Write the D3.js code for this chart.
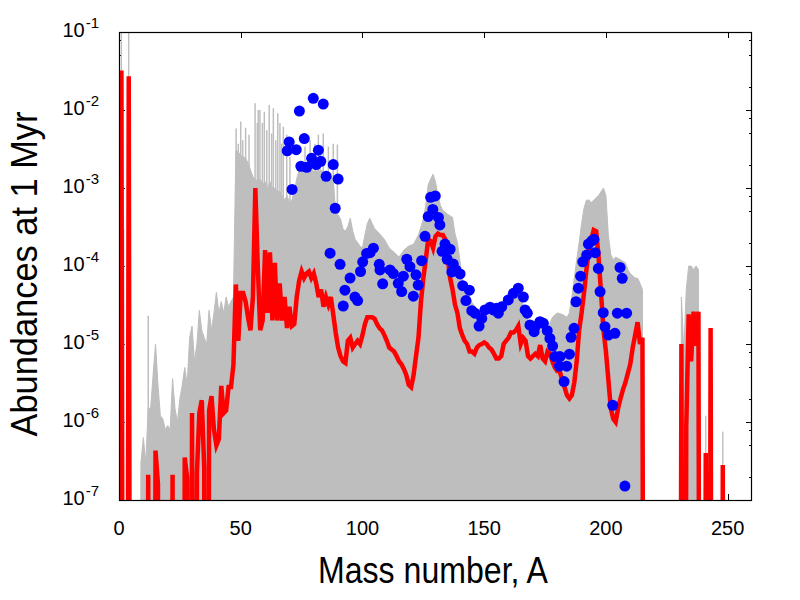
<!DOCTYPE html>
<html>
<head>
<meta charset="utf-8">
<script src="https://cdn.jsdelivr.net/npm/d3@7"></script>
<style>
  body { margin: 0; background: #ffffff; }
  svg { display: block; }
  text { font-family: "Liberation Sans", Arial, Helvetica, sans-serif; fill: #000; }
</style>
</head>
<body>
<svg id="chart" width="800" height="600"></svg>
<script>
// ---------------- data ----------------
const FLOOR = 1e-20; // abundances far below the plotted range

// red curve: abundances at 1 Myr
const redMass = [1,2,3,4,5,11,12,13,14,15,16,17,21,22,23,26,27,28,29,30,31,32,33,34,35,36,37,38,39,40,
  41,42,43,44,45,46,47,48,49,50,51,52,53,54,55,56,57,58,59,60,61,62,63,64,65,66,67,68,69,70,
  71,72,73,74,75,76,77,78,79,80,81,82,83,84,85,86,87,88,89,90,91,92,93,94,95,96,97,98,99,100,
  101,102,103,104,105,106,107,108,109,110,111,112,113,114,115,116,117,118,119,120,
  121,122,123,124,125,126,127,128,129,130,131,132,133,134,135,136,137,138,139,140,
  141,142,143,144,145,146,147,148,149,150,151,152,153,154,155,156,157,158,159,160,
  161,162,163,164,165,166,167,168,169,170,171,172,173,174,175,176,177,178,179,180,
  181,182,183,184,185,186,187,188,189,190,191,192,193,194,195,196,197,198,199,200,
  201,202,203,204,205,206,207,208,209,210,211,212,213,214,215,216,
  230,231,232,233,234,235,236,237,238,239,240,241,242,243,244,247,248,249];
const redAbund = [3.2e-2,FLOOR,FLOOR,2.7e-2,FLOOR,FLOOR,2.1e-7,FLOOR,FLOOR,4.3e-7,1.6e-7,FLOOR,FLOOR,2.1e-7,FLOOR,FLOOR,3.5e-7,1.9e-7,FLOOR,1.3e-6,FLOOR,2.2e-7,1.3e-6,1.9e-6,2.6e-7,FLOOR,1.4e-6,2.15e-6,8e-7,5e-7,
  6e-7,2.9e-6,1.3e-6,1.4e-6,2.8e-6,2.8e-6,5.4e-6,5.8e-5,1.1e-5,4.5e-5,4.5e-5,3.5e-5,2.2e-5,1.5e-5,4e-5,1e-3,1e-4,1.5e-5,2e-5,1.6e-4,2.5e-5,1.5e-4,2e-5,1.1e-4,2e-5,6e-5,2e-5,4e-5,1.6e-5,3e-5,
  1.7e-5,1.8e-5,4e-5,6.5e-5,8.5e-5,7e-5,8e-5,8.5e-5,7e-5,8e-5,6e-5,4e-5,5e-5,3e-5,4e-5,3.2e-5,4e-5,2.4e-5,1.4e-5,9e-6,7e-6,6e-6,5.7e-6,1.1e-5,1.2e-5,9e-6,1e-5,1.1e-5,1e-5,1.3e-5,
  1.8e-5,2.2e-5,2.2e-5,2.2e-5,2.1e-5,1.8e-5,1.6e-5,1.5e-5,1.3e-5,1.1e-5,9e-6,8.5e-6,8e-6,7e-6,6e-6,5.5e-6,4.8e-6,4e-6,3e-6,2.8e-6,
  4e-6,7e-6,1.2e-5,3.4e-5,7e-5,1.2e-4,2.2e-4,2.1e-4,1.7e-4,2.4e-4,2.6e-4,2.5e-4,2.5e-4,2.2e-4,1.3e-4,7e-5,5e-5,3.2e-5,2.5e-5,1.6e-5,
  1.3e-5,1.1e-5,1e-5,8e-6,8e-6,7.5e-6,9e-6,9.7e-6,1e-5,1.05e-5,1e-5,9e-6,8.5e-6,7.5e-6,6.5e-6,6.5e-6,7e-6,1e-5,1.1e-5,1.2e-5,
  1.4e-5,1.4e-5,1.5e-5,1.7e-5,1e-5,1.2e-5,1.1e-5,7e-6,6.5e-6,7e-6,7.5e-6,7e-6,9.7e-6,6.5e-6,6e-6,8e-6,7.5e-6,6e-6,5e-6,4.5e-6,
  4.5e-6,3.5e-6,2.8e-6,2.2e-6,2e-6,2.2e-6,3.2e-6,6e-6,1.5e-5,2.5e-5,4.5e-5,9e-5,1.6e-4,2.2e-4,2.9e-4,2.8e-4,1.3e-4,4.5e-5,1.5e-5,8e-6,
  3.5e-6,1.5e-6,1.1e-6,1e-6,1.5e-6,2e-6,2.6e-6,3.2e-6,4.2e-6,5.5e-6,9e-6,1.3e-5,1.9e-5,1e-5,1.2e-5,FLOOR,
  FLOOR,1e-5,FLOOR,9e-7,2.4e-5,6e-6,2.6e-5,9.5e-6,2.6e-5,FLOOR,FLOOR,4e-7,FLOOR,1.6e-5,FLOOR,FLOOR,2.8e-7,FLOOR];

// grey band: upper envelope of the ensemble of runs
const grayMass = [0,1,2,3,4,5,8,9,10,11,12,13,14,15,16,17,18,19,20,21,22,23,24,25,26,27,28,29,30,31,32,33,34,35,36,37,38,39,40,
  41,42,43,44,45,46,47,48,49,50,51,52,53,54,55,56,57,58,59,60,61,62,63,64,65,66,67,68,69,70,
  71,72,73,74,75,76,77,78,79,80,81,82,83,84,85,86,87,88,89,90,91,92,93,94,95,96,97,98,99,100,
  101,102,103,104,105,107,109,111,113,115,117,119,121,123,125,126,127,128,129,130,131,132,133,135,137,138,139,140,
  141,142,144,145,147,149,151,153,155,157,159,161,163,164,165,166,167,168,170,172,174,176,178,180,182,184,185,186,187,188,189,190,
  191,192,193,194,195,196,197,198,199,200,201,202,203,204,206,208,209,210,212,213,214,215,216,
  230,231,232,233,234,235,236,237,238,239,240,241,242,247,248,249];
const grayTop = [FLOOR,0.2,FLOOR,FLOOR,0.2,FLOOR,FLOOR,3e-7,6.3e-7,3e-7,1.5e-6,1.5e-6,4e-6,1e-5,3e-6,1.2e-6,1.1e-6,8e-7,9e-7,8e-7,3.6e-6,1.5e-6,1e-6,2e-6,3e-6,5e-6,3e-6,1.2e-5,1.7e-5,6e-6,1e-5,2.7e-5,1.5e-5,1.2e-5,1e-5,2.7e-5,1.5e-5,2.5e-5,4.6e-5,
  2.5e-5,3.5e-5,2.5e-5,4e-5,3e-5,3.5e-5,4e-5,3e-3,2.9e-3,2.6e-3,2.5e-3,2.4e-3,2.1e-3,1.7e-3,1.4e-3,1.3e-3,1.2e-3,1.3e-3,1.1e-3,1.2e-3,1e-3,1.2e-3,1e-3,1e-3,9e-4,9e-4,8e-4,7e-4,8e-4,6.5e-4,
  7e-4,9e-4,1.3e-3,1.7e-3,1.8e-3,1.7e-3,1.8e-3,1.7e-3,1.8e-3,1.6e-3,1.7e-3,1.6e-3,1.7e-3,1.6e-3,1.5e-3,1.6e-3,1.4e-3,1.3e-3,4.8e-4,4.5e-4,4e-4,3e-4,2.8e-4,3.2e-4,4.1e-4,2.8e-4,2.2e-4,2e-4,1.8e-4,1.7e-4,
  2.5e-4,3.5e-4,4.1e-4,3.5e-4,3e-4,2.6e-4,2.2e-4,1.7e-4,1.5e-4,1.3e-4,1.6e-4,1.8e-4,1.9e-4,2.5e-4,4e-4,6e-4,1.1e-3,1.3e-3,1.5e-3,1.2e-3,8e-4,6e-4,5.2e-4,4.6e-4,4.2e-4,2.6e-4,2e-4,1.2e-4,
  7e-5,5.5e-5,4e-5,3.4e-5,2.8e-5,2.4e-5,2.5e-5,3.2e-5,3.2e-5,3.4e-5,4e-5,5e-5,5.5e-5,5.5e-5,4e-5,3.2e-5,2.5e-5,2e-5,2e-5,1.8e-5,1.6e-5,1.5e-5,2.2e-5,2.5e-5,2.4e-5,2.2e-5,2.5e-5,4e-5,7e-5,1.2e-4,2e-4,3.5e-4,
  5.5e-4,7e-4,7e-4,6.5e-4,7e-4,7.5e-4,8e-4,9e-4,1e-3,8e-4,2.5e-4,1.4e-4,1.2e-4,1.3e-4,1.2e-4,1.1e-4,9e-5,8e-5,7e-5,7e-5,6e-5,5e-5,FLOOR,
  FLOOR,4e-5,8e-6,5e-5,1e-4,1e-4,9e-5,1e-4,9e-5,FLOOR,FLOOR,1.2e-6,FLOOR,FLOOR,7.5e-7,FLOOR];

// isolated tall grey runs (thin spikes above the band)
const spikeMass = [1.9,12.0,48.1,49.0,50.0,50.8,52.0,53.4,55.9,56.8,57.2,57.9,58.9,59.7,60.7,61.7,62.7,63.4,64.4,65.2,66.1,66.8,67.5,68.9,70.2,76.4,78.5,80.5,81.9,82.6,83.9,86.0,88.0,89.7];
const spikeTop  = [3e-4,2.3e-5,5.8e-3,3.7e-3,7.1e-3,4.1e-3,5.9e-3,4.8e-3,1.22e-2,6.8e-3,1.0e-2,1.0e-2,6.8e-3,9.5e-3,5.5e-3,1.16e-2,5.0e-3,1.05e-2,4.1e-3,9.1e-3,6.8e-3,3.7e-3,6.1e-3,4.8e-3,2.5e-3,3.4e-3,4.1e-3,3.7e-3,4.8e-3,2.6e-3,5.0e-3,3.4e-3,3.7e-3,3.6e-3];

// blue points: observed abundances
const obsMass = [69.1,69.9,71.1,72.8,74.1,74.7,76.1,77.1,79.1,79.8,81.0,81.9,82.9,83.9,85.1,88.0,88.8,90.0,86.7,90.8,
  92.1,92.8,94.9,96.9,98.0,99.2,100.1,101.7,103.1,104.5,106.9,107.2,108.3,111.3,112.7,114.7,116.1,116.8,118.2,119.5,
  120.9,122.0,122.9,124.3,125.7,127.0,128.0,128.9,129.9,131.2,131.8,132.7,133.9,135.0,136.0,134.8,137.3,138.4,136.7,140.1,
  141.2,143.9,142.5,144.9,146.2,147.9,149.0,150.3,152.4,153.7,155.1,155.8,157.2,159.9,162.0,164.0,166.1,166.8,167.7,168.8,
  170.9,170.5,172.9,174.3,175.9,177.0,178.1,179.1,181.1,180.9,183.9,182.8,185.0,185.7,186.9,187.7,188.7,189.6,190.5,192.1,
  192.8,194.2,195.1,195.6,196.9,197.6,198.9,199.6,201.0,203.7,202.8,204.7,205.8,206.7,208.5,207.8];
const obsAbund = [3.0e-3,3.9e-3,9.6e-4,3.1e-3,9.7e-3,1.9e-3,4.3e-3,1.84e-3,2.4e-3,1.41e-2,2.0e-3,3.05e-3,2.2e-3,1.19e-2,1.41e-3,2.0e-3,5.5e-4,1.3e-3,1.46e-4,1.05e-4,
  3.07e-5,4.9e-5,7.0e-5,4.0e-5,3.6e-5,8.5e-5,1.13e-4,1.45e-4,1.48e-4,1.69e-4,1.05e-4,8.9e-5,5.9e-5,8.9e-5,8.0e-5,6.0e-5,4.7e-5,7.4e-5,1.22e-4,9.8e-5,
  4.1e-5,7.7e-5,5.7e-5,1.17e-4,2.4e-4,4.3e-4,7.6e-4,5.3e-4,7.9e-4,4.2e-4,3.36e-4,1.54e-4,1.91e-4,1.67e-4,1.64e-4,1.22e-4,1.06e-4,8.9e-5,8.4e-5,7.9e-5,
  5.6e-5,4.9e-5,3.6e-5,2.67e-5,2.48e-5,1.7e-5,2.13e-5,2.73e-5,2.96e-5,2.73e-5,2.87e-5,2.48e-5,3.0e-5,3.67e-5,4.47e-5,5.2e-5,4.0e-5,2.73e-5,2.48e-5,1.75e-5,
  1.67e-5,1.44e-5,1.93e-5,1.84e-5,1.48e-5,1.18e-5,9.4e-6,6.9e-6,6.9e-6,5.2e-6,5.2e-6,3.3e-6,7.4e-6,1.22e-5,1.59e-5,3.48e-5,5.2e-5,7.4e-5,1.13e-4,1.38e-4,
  1.91e-4,2.1e-4,2.2e-4,1.48e-4,9.3e-5,4.7e-5,2.52e-5,1.67e-5,1.3e-5,1.37e-5,1.64e-6,2.48e-5,9.6e-5,6.95e-5,2.48e-5,1.51e-7];

// axes
const xTickValues = [0,50,100,150,200,250];
const yTickExponents = [-1,-2,-3,-4,-5,-6,-7];
const yMinorFactors = [2,5,8];
const xTitle = "Mass number, A";
const yTitle = "Abundances at 1 Myr";

// ---------------- drawing ----------------
const svg = d3.select("#chart");
const plot = {left: 119, top: 32, right: 752, bottom: 500};

const x = d3.scaleLinear().domain([0, 260]).range([plot.left, plot.right]);
const y = d3.scaleLog().domain([1e-7, 1e-1]).range([plot.bottom, plot.top]);

svg.append("rect").attr("width", 800).attr("height", 600).attr("fill", "#fff");

svg.append("clipPath").attr("id", "clip")
  .append("rect")
  .attr("x", plot.left).attr("y", plot.top)
  .attr("width", plot.right - plot.left).attr("height", plot.bottom - plot.top);

// ticks (drawn behind the data, like gnuplot)
const tickG = svg.append("g").attr("stroke", "#000").attr("stroke-width", 1).attr("shape-rendering", "crispEdges");
const MAJ = 6, MIN = 3;
xTickValues.forEach(v => {
  const px = Math.round(x(v)) + 0.5;
  tickG.append("line").attr("x1", px).attr("x2", px).attr("y1", plot.bottom).attr("y2", plot.bottom - MAJ);
  tickG.append("line").attr("x1", px).attr("x2", px).attr("y1", plot.top).attr("y2", plot.top + MAJ);
});
yTickExponents.forEach(e => {
  const py = Math.round(y(Math.pow(10, e))) + 0.5;
  tickG.append("line").attr("x1", plot.left).attr("x2", plot.left + MAJ).attr("y1", py).attr("y2", py);
  tickG.append("line").attr("x1", plot.right).attr("x2", plot.right - MAJ).attr("y1", py).attr("y2", py);
  if (e < -1) {
    yMinorFactors.forEach(f => {
      const val = f * Math.pow(10, e);
      const pm = Math.round(y(val)) + 0.5;
      tickG.append("line").attr("x1", plot.left).attr("x2", plot.left + MIN).attr("y1", pm).attr("y2", pm);
      tickG.append("line").attr("x1", plot.right).attr("x2", plot.right - MIN).attr("y1", pm).attr("y2", pm);
    });
  }
});

const dataG = svg.append("g").attr("clip-path", "url(#clip)");

// grey ensemble band
const grayData = grayMass.map((m, i) => ({m, v: grayTop[i]}));
dataG.append("path")
  .datum(grayData)
  .attr("fill", "#bebebe")
  .attr("stroke", "#bebebe")
  .attr("stroke-width", 1)
  .attr("d", d3.area()
    .x(d => x(d.m))
    .y0(y(1e-7) + 5)
    .y1(d => y(d.v)));

// grey thin spikes
dataG.append("g").selectAll("line")
  .data(spikeMass.map((m, i) => ({m, v: spikeTop[i]})))
  .join("line")
  .attr("x1", d => x(d.m)).attr("x2", d => x(d.m))
  .attr("y1", y(1e-7) + 5).attr("y2", d => y(d.v))
  .attr("stroke", "#bebebe").attr("stroke-width", 1.5);

// red curve
const redData = redMass.map((m, i) => ({m, v: redAbund[i]}));
dataG.append("path")
  .datum(redData)
  .attr("fill", "none")
  .attr("stroke", "#ff0000")
  .attr("stroke-width", 4.5)
  .attr("d", d3.line().x(d => x(d.m)).y(d => y(d.v)));

// blue points
dataG.append("g").selectAll("circle")
  .data(obsMass.map((m, i) => ({m, v: obsAbund[i]})))
  .join("circle")
  .attr("cx", d => x(d.m))
  .attr("cy", d => y(d.v))
  .attr("r", 5.5)
  .attr("fill", "#0000ff");

// border
svg.append("rect")
  .attr("x", plot.left + 0.5).attr("y", plot.top + 0.5)
  .attr("width", plot.right - plot.left - 1).attr("height", plot.bottom - plot.top)
  .attr("fill", "none").attr("stroke", "#000").attr("stroke-width", 1.2);

// tick labels
const labelG = svg.append("g");
xTickValues.forEach(v => {
  labelG.append("text")
    .attr("x", x(v)).attr("y", 535)
    .attr("text-anchor", "middle")
    .attr("font-size", 20)
    .text(v);
});
yTickExponents.forEach(e => {
  const py = y(Math.pow(10, e));
  const t = labelG.append("text")
    .attr("x", 99).attr("y", py + 5)
    .attr("text-anchor", "end")
    .attr("font-size", 20);
  t.append("tspan").text("10");
  t.append("tspan").attr("dy", -9).attr("dx", 1).attr("font-size", 15).text(String(e));
});

// axis titles
svg.append("text")
  .attr("x", 433).attr("y", 583)
  .attr("text-anchor", "middle")
  .attr("font-size", 36)
  .attr("textLength", 230)
  .attr("lengthAdjust", "spacingAndGlyphs")
  .text(xTitle);

svg.append("text")
  .attr("transform", "translate(37,274) rotate(-90)")
  .attr("text-anchor", "middle")
  .attr("font-size", 36)
  .attr("textLength", 325)
  .attr("lengthAdjust", "spacingAndGlyphs")
  .text(yTitle);
</script>
</body>
</html>
